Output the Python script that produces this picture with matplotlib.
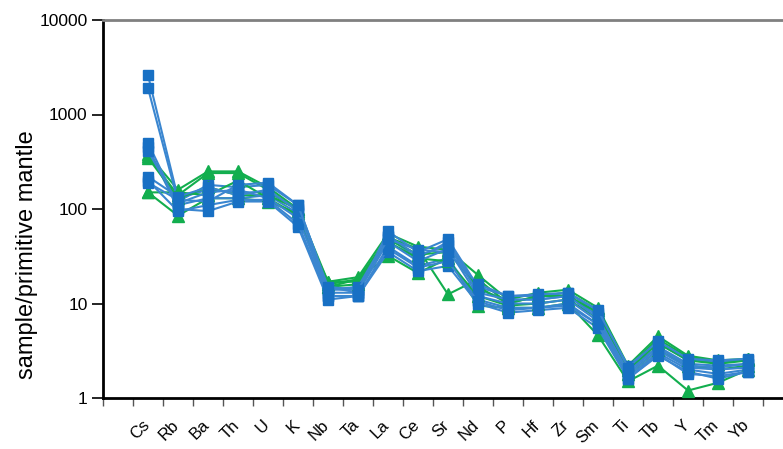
import matplotlib
matplotlib.use('Agg')
import matplotlib.pyplot as plt
import numpy as np

plt.rcParams['font.family'] = ['Liberation Sans', 'DejaVu Sans']

# element order on the x axis (first slot left blank, as in the original)
elements = ['Cs', 'Rb', 'Ba', 'Th', 'U', 'K', 'Nb', 'Ta', 'La', 'Ce', 'Sr',
            'Nd', 'P', 'Hf', 'Zr', 'Sm', 'Ti', 'Tb', 'Y', 'Tm', 'Yb']

# sample / primitive mantle
blue_1 = [2600, 130, 160, 150, 150, 100, 14, 14, 50, 30, 45, 14, 11, 11, 12, 7.5, 2.0, 3.5, 2.3, 2.2, 2.3]
blue_2 = [1900, 120, 180, 170, 180, 110, 15, 13, 58, 35, 48, 15, 12, 12, 13, 8.0, 2.2, 3.8, 2.5, 2.4, 2.5]
blue_3 = [500, 110, 130, 130, 140, 90, 12, 12, 40, 25, 30, 11, 9, 9, 10, 6.0, 1.7, 3.0, 2.0, 1.8, 2.0]
blue_4 = [450, 100, 95, 120, 120, 65, 11, 12, 35, 22, 25, 10, 8, 8.5, 9, 5.5, 1.6, 2.8, 1.9, 1.6, 1.9]
blue_5 = [410, 115, 150, 160, 130, 80, 13, 13, 45, 28, 38, 12, 10, 10, 11, 6.5, 1.8, 3.2, 2.1, 2.0, 2.1]
blue_6 = [220, 135, 170, 140, 160, 95, 14, 15, 52, 32, 42, 13, 11, 11, 12, 7.0, 1.9, 3.4, 2.2, 2.1, 2.3]
blue_7 = [200, 95, 110, 125, 125, 70, 12, 12, 38, 24, 28, 10.5, 8.5, 9, 9.5, 6.0, 1.6, 2.9, 1.8, 1.7, 1.9]
blue_8 = [190, 125, 120, 180, 190, 110, 15, 14, 48, 37, 35, 16, 12, 12.5, 13, 8.5, 2.1, 4.0, 2.6, 2.5, 2.6]

green_1 = [380, 160, 250, 250, 170, 100, 17, 19, 55, 40, 37, 20, 11, 13, 14, 9.0, 2.2, 4.5, 2.8, 2.5, 2.6]
green_2 = [360, 140, 240, 240, 160, 95, 16, 18, 50, 38, 12.5, 18, 10, 12, 13, 8.5, 2.1, 4.2, 2.7, 2.4, 2.6]
green_3 = [150, 85, 130, 130, 120, 90, 15, 18, 32, 21, 30, 9.5, 9, 9, 10, 4.6, 1.5, 2.2, 1.2, 1.45, 2.0]
green_4 = [150, 150, 140, 200, 130, 85, 17, 17, 48, 33, 35, 15, 10, 12, 12, 8.0, 2.0, 3.8, 2.5, 2.3, 2.5]
green_5 = [350, 130, 170, 140, 140, 100, 15, 16, 45, 30, 28, 12, 9.5, 10, 11, 7.0, 1.8, 3.2, 2.2, 2.0, 2.2]

blue_series = [blue_1, blue_2, blue_3, blue_4, blue_5, blue_6, blue_7, blue_8]
green_series = [green_1, green_2, green_3, green_4, green_5]

BLUE = '#1870C4'
BLUE_LINE = '#3A86D0'
GREEN = '#12AE4E'

fig = plt.figure(figsize=(7.83, 4.49), dpi=100)
ax = fig.add_axes([103 / 783, 1 - 398 / 449, 1 - 103 / 783, (398 - 20) / 449])

x = np.arange(1, len(elements) + 1)

# interleave the two groups so neither sits fully on top
order = []
for i in range(max(len(blue_series), len(green_series))):
    if i < len(green_series):
        order.append(('g', green_series[i]))
    if i < len(blue_series):
        order.append(('b', blue_series[i]))

for kind, vals in order:
    if kind == 'b':
        ax.plot(x, vals, color=BLUE_LINE, lw=1.5, marker='s', ms=7,
                mfc=BLUE, mec=BLUE, zorder=3)
    else:
        ax.plot(x, vals, color=GREEN, lw=1.5, marker='^', ms=8,
                mfc=GREEN, mec=GREEN, zorder=3)

ax.set_yscale('log')
ax.set_ylim(1, 10000)
ax.set_xlim(-0.5, -0.5 + 680 / 30)

ax.set_yticks([1, 10, 100, 1000, 10000])
ax.set_yticklabels(['1', '10', '100', '1000', '10000'], fontsize=12.5)
ax.yaxis.set_minor_locator(matplotlib.ticker.NullLocator())
ax.tick_params(axis='y', direction='out', length=8, width=1.2, pad=3)

# category boundaries carry the tick marks, labels sit at the centres
ax.set_xticks(np.arange(-0.5, len(elements) + 1, 1.0))
ax.set_xticklabels([])
ax.tick_params(axis='x', direction='out', length=6, width=1, color='#555555')
for xi, name in zip(x, elements):
    ax.annotate(name, xy=(xi, 0), xycoords=('data', 'axes fraction'),
                xytext=(3, -14), textcoords='offset points',
                rotation=45, ha='right', va='top', fontsize=12)

ax.set_ylabel('sample/primitive mantle', fontsize=17)
ax.yaxis.set_label_coords(-0.096, 0.38)

ax.spines['left'].set_linewidth(2)
ax.spines['bottom'].set_linewidth(2)
ax.spines['top'].set_color('#808080')
ax.spines['top'].set_linewidth(2)
ax.spines['right'].set_visible(False)

fig.savefig('out.png', dpi=100)
